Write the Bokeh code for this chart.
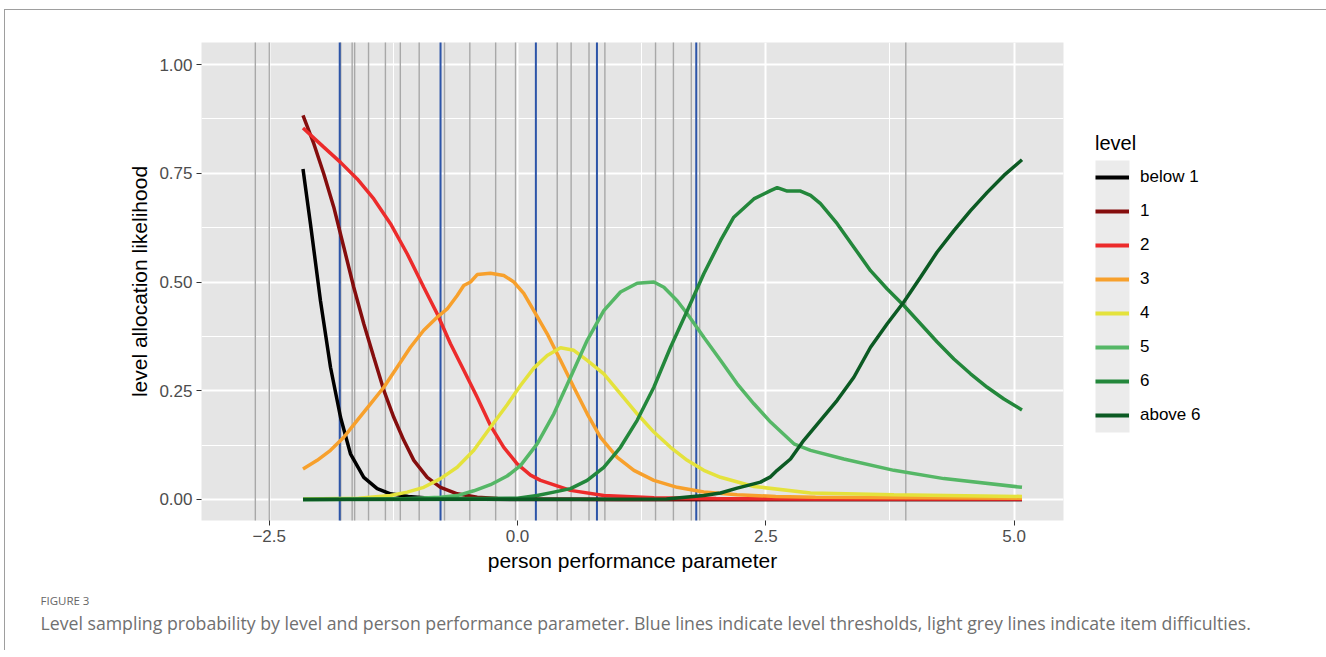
import numpy as np
from bokeh.plotting import figure
from bokeh.layouts import row, column
from bokeh.models import (Range1d, FixedTicker, Legend, LegendItem, Label,
                          CustomJSTickFormatter)
from bokeh.embed import file_html
from bokeh.resources import INLINE

# ---------------- data ----------------
level_names = ["below 1", "1", "2", "3", "4", "5", "6", "above 6"]
level_colors = ["#000000", "#850d0d", "#ec2b2b", "#f7a02c", "#e4e23c", "#55b766", "#23873b", "#0b5a23"]

below1_x = [-2.16, -2.085, -1.984, -1.883, -1.782, -1.682, -1.548, -1.413, -1.279, -1.1, -0.94, -0.6, 0.0, 1.0, 2.0, 3.0, 4.0, 5.08]
below1_y = [0.760, 0.634, 0.457, 0.304, 0.189, 0.105, 0.051, 0.025, 0.013, 0.007, 0.004, 0.001, 0.0, 0.0, 0.0, 0.0, 0.0, 0.0]

level1_x = [-2.16, -2.051, -1.951, -1.850, -1.749, -1.649, -1.548, -1.447, -1.346, -1.246, -1.145, -1.044, -0.909, -0.775, -0.607, -0.406, -0.2, 0.2, 1.0, 2.0, 3.0, 4.0, 5.08]
level1_y = [0.883, 0.818, 0.749, 0.672, 0.580, 0.488, 0.404, 0.327, 0.251, 0.189, 0.136, 0.090, 0.051, 0.028, 0.013, 0.005, 0.002, 0.001, 0.0, 0.0, 0.0, 0.0, 0.0]

level2_x = [-2.16, -1.951, -1.782, -1.614, -1.447, -1.279, -1.111, -0.944, -0.809, -0.675, -0.541, -0.406, -0.272, -0.138, -0.003, 0.131, 0.232, 0.534, 0.869, 1.373, 2.0, 3.0, 4.0, 5.08]
level2_y = [0.854, 0.810, 0.775, 0.737, 0.691, 0.634, 0.565, 0.488, 0.427, 0.358, 0.297, 0.235, 0.170, 0.120, 0.082, 0.056, 0.044, 0.021, 0.009, 0.004, 0.002, 0.001, 0.001, 0.001]

level3_x = [-2.16, -2.017, -1.883, -1.749, -1.614, -1.480, -1.346, -1.212, -1.078, -0.944, -0.809, -0.708, -0.607, -0.541, -0.473, -0.406, -0.272, -0.138, -0.037, 0.063, 0.164, 0.299, 0.433, 0.567, 0.702, 0.836, 1.004, 1.172, 1.373, 1.608, 1.876, 2.212, 2.6, 3.0, 4.0, 5.08]
level3_y = [0.070, 0.090, 0.113, 0.143, 0.182, 0.220, 0.258, 0.304, 0.350, 0.389, 0.419, 0.438, 0.469, 0.492, 0.500, 0.517, 0.520, 0.515, 0.500, 0.474, 0.434, 0.381, 0.320, 0.258, 0.197, 0.143, 0.097, 0.067, 0.044, 0.028, 0.017, 0.011, 0.007, 0.005, 0.004, 0.003]

level4_x = [-2.16, -1.6, -1.279, -1.111, -0.944, -0.775, -0.607, -0.440, -0.272, -0.104, 0.030, 0.164, 0.299, 0.433, 0.567, 0.702, 0.869, 1.037, 1.205, 1.373, 1.541, 1.709, 1.876, 2.044, 2.380, 2.951, 3.790, 5.08]
level4_y = [0.001, 0.003, 0.009, 0.017, 0.028, 0.048, 0.074, 0.113, 0.166, 0.218, 0.262, 0.302, 0.331, 0.349, 0.343, 0.320, 0.289, 0.243, 0.197, 0.155, 0.120, 0.090, 0.067, 0.051, 0.030, 0.015, 0.011, 0.007]

level5_x = [-2.16, -1.2, -0.775, -0.607, -0.440, -0.272, -0.104, 0.030, 0.198, 0.366, 0.534, 0.702, 0.869, 1.037, 1.205, 1.373, 1.474, 1.608, 1.709, 1.876, 2.044, 2.212, 2.380, 2.548, 2.783, 2.951, 3.286, 3.790, 4.293, 5.08]
level5_y = [0.0, 0.001, 0.005, 0.009, 0.020, 0.034, 0.054, 0.078, 0.128, 0.197, 0.281, 0.366, 0.434, 0.477, 0.497, 0.500, 0.488, 0.457, 0.427, 0.373, 0.320, 0.266, 0.220, 0.178, 0.128, 0.113, 0.093, 0.067, 0.048, 0.028]

level6_x = [-2.16, 0.0, 0.198, 0.366, 0.534, 0.702, 0.869, 1.037, 1.205, 1.373, 1.541, 1.709, 1.876, 2.044, 2.178, 2.380, 2.548, 2.615, 2.716, 2.850, 2.951, 3.051, 3.219, 3.387, 3.555, 3.723, 3.890, 4.058, 4.226, 4.394, 4.562, 4.730, 4.898, 5.08]
level6_y = [0.0, 0.003, 0.009, 0.017, 0.025, 0.044, 0.074, 0.120, 0.182, 0.258, 0.350, 0.434, 0.519, 0.595, 0.649, 0.691, 0.710, 0.717, 0.709, 0.709, 0.699, 0.680, 0.634, 0.580, 0.526, 0.484, 0.446, 0.404, 0.362, 0.323, 0.289, 0.258, 0.231, 0.206]

above6_x = [-2.16, 1.5, 1.876, 2.044, 2.212, 2.380, 2.447, 2.548, 2.615, 2.749, 2.883, 3.051, 3.219, 3.387, 3.555, 3.723, 3.890, 4.058, 4.226, 4.394, 4.562, 4.730, 4.898, 5.08]
above6_y = [0.0, 0.001, 0.009, 0.015, 0.026, 0.036, 0.040, 0.052, 0.067, 0.093, 0.136, 0.182, 0.228, 0.281, 0.350, 0.404, 0.454, 0.511, 0.569, 0.618, 0.664, 0.706, 0.745, 0.781]

level_thresholds = [-1.79, -0.775, 0.185, 0.80, 1.80]
item_difficulties = [-2.64, -2.50, -1.78, -1.665, -1.64, -1.50, -1.33, -1.18, -0.99, -0.735,
                     -0.48, -0.22, -0.02, 0.40, 0.54, 0.72, 0.88, 1.39, 1.57, 1.75, 1.835, 3.91]

x_ticks = [-2.5, 0, 2.5, 5]
x_minor = [-3.75, -1.25, 1.25, 3.75]
y_ticks = [0, 0.25, 0.5, 0.75, 1.0]
y_minor = [0.125, 0.375, 0.625, 0.875]

x_label = "person performance parameter"
y_label = "level allocation likelihood"
legend_title = "level"
fig_label = "FIGURE 3"
caption = ("Level sampling probability by level and person performance parameter. "
           "Blue lines indicate level thresholds, light grey lines indicate item difficulties.")

series_x = [below1_x, level1_x, level2_x, level3_x, level4_x, level5_x, level6_x, above6_x]
series_y = [below1_y, level1_y, level2_y, level3_y, level4_y, level5_y, level6_y, above6_y]

# page frame: thin border line at left (x=4) and top (y=9); content starts at (5, 10)
OX, OY = 5, 10

# ---------------- main figure ----------------
p = figure(width=1080 - OX, height=580 - OY,
           x_range=Range1d(-3.182, 5.498), y_range=Range1d(-0.0483, 1.0506),
           output_backend="svg", toolbar_location=None,
           min_border_left=201 - OX, min_border_right=17, min_border_top=42 - OY, min_border_bottom=60)

p.background_fill_color = "#e5e5e5"
p.border_fill_color = "white"
p.outline_line_color = None

p.xaxis.ticker = FixedTicker(ticks=x_ticks, minor_ticks=x_minor)
p.yaxis.ticker = FixedTicker(ticks=y_ticks, minor_ticks=y_minor)
p.xaxis.formatter = CustomJSTickFormatter(code="return tick.toFixed(1).replace('-', '\u2212');")
p.yaxis.formatter = CustomJSTickFormatter(code="return tick.toFixed(2);")

for g in (p.xgrid, p.ygrid):
    g.grid_line_color = "white"
    g.grid_line_width = 2
    g.minor_grid_line_color = "white"
    g.minor_grid_line_width = 1

for ax in (p.xaxis, p.yaxis):
    ax.axis_line_color = None
    ax.major_tick_line_color = "#333333"
    ax.major_tick_line_width = 1
    ax.major_tick_out = 5
    ax.major_tick_in = 0
    ax.minor_tick_line_color = None
    ax.major_label_text_color = "#4d4d4d"
    ax.major_label_text_font = "Liberation Sans"
    ax.major_label_text_font_size = "17px"
    ax.axis_label_text_font = "Liberation Sans"
    ax.axis_label_text_font_size = "21px"
    ax.axis_label_text_font_style = "normal"
    ax.axis_label_text_color = "black"

p.xaxis.axis_label = x_label
p.yaxis.axis_label = y_label
p.xaxis.major_label_standoff = 4
p.yaxis.major_label_standoff = 4
p.xaxis.axis_label_standoff = 4
p.yaxis.axis_label_standoff = 5

# item difficulties (grey) and level thresholds (blue)
p.segment(x0=item_difficulties, y0=-1, x1=item_difficulties, y1=2,
          line_color="#a8a8a8", line_width=1.4)
p.segment(x0=level_thresholds, y0=-1, x1=level_thresholds, y1=2,
          line_color="#2c54a8", line_width=2)

for name, col, xs, ys in zip(level_names, level_colors, series_x, series_y):
    p.line(xs, ys, line_color=col, line_width=3.5)

# ---------------- legend panel ----------------
# its plot frame is aligned with the main frame (page y 42..520); y range in page pixels
lw = 246
pl = figure(width=lw, height=580 - OY, x_range=Range1d(0, lw), y_range=Range1d(520, 42),
            output_backend="svg", toolbar_location=None,
            min_border_left=0, min_border_right=0, min_border_top=42 - OY, min_border_bottom=60)
pl.axis.visible = False
pl.grid.visible = False
pl.outline_line_color = None
pl.background_fill_color = "white"
pl.border_fill_color = "white"

key_left, key_right = 15, 49
key_bottom = 432
key_top = key_bottom - 8 * 34
pl.quad(left=[key_left], right=[key_right], bottom=[key_bottom], top=[key_top],
        fill_color="#ebebeb", line_color=None)

items = []
for name, col in zip(level_names, level_colors):
    r = pl.line(x=np.array([np.nan]), y=np.array([np.nan]), line_color=col, line_width=4)
    items.append(LegendItem(label=name, renderers=[r]))

legend = Legend(items=items, title=legend_title, location=(key_left, 520 - key_bottom))
legend.title_text_font = "Liberation Sans"
legend.title_text_font_size = "20px"
legend.title_text_font_style = "normal"
legend.title_text_color = "black"
legend.title_standoff = 5
legend.label_text_font = "Liberation Sans"
legend.label_text_font_size = "17px"
legend.label_text_color = "black"
legend.label_standoff = 11
legend.glyph_width = 34
legend.glyph_height = 34
legend.label_height = 34
legend.spacing = 0
legend.padding = 0
legend.margin = 0
legend.border_line_color = None
legend.background_fill_alpha = 0
pl.add_layout(legend, "center")

# ---------------- caption panel ----------------
cw, ch = 1326 - OX, 70
pc = figure(width=cw, height=ch, x_range=Range1d(0, cw), y_range=Range1d(0, ch),
            output_backend="svg", toolbar_location=None,
            min_border_left=0, min_border_right=0, min_border_top=0, min_border_bottom=0)
pc.axis.visible = False
pc.grid.visible = False
pc.outline_line_color = None
pc.background_fill_color = "white"
pc.border_fill_color = "white"
pc.add_layout(Label(x=40 - OX, y=ch - 20, text=fig_label, text_font="Open Sans",
                    text_font_size="11.5px", text_color="#666666",
                    text_baseline="middle", text_align="left"))
pc.add_layout(Label(x=40 - OX, y=ch - 42, text=caption, text_font="Open Sans",
                    text_font_size="17.7px", text_color="#707070",
                    text_baseline="middle", text_align="left"))

layout = column(row(p, pl, spacing=0), pc, spacing=0,
                margin=(OY - 1, 0, 0, OX - 1),
                styles={"border-top": "1px solid #9e9e9e", "border-left": "1px solid #9e9e9e"})
open("out.html", "w").write(file_html(layout, INLINE))
